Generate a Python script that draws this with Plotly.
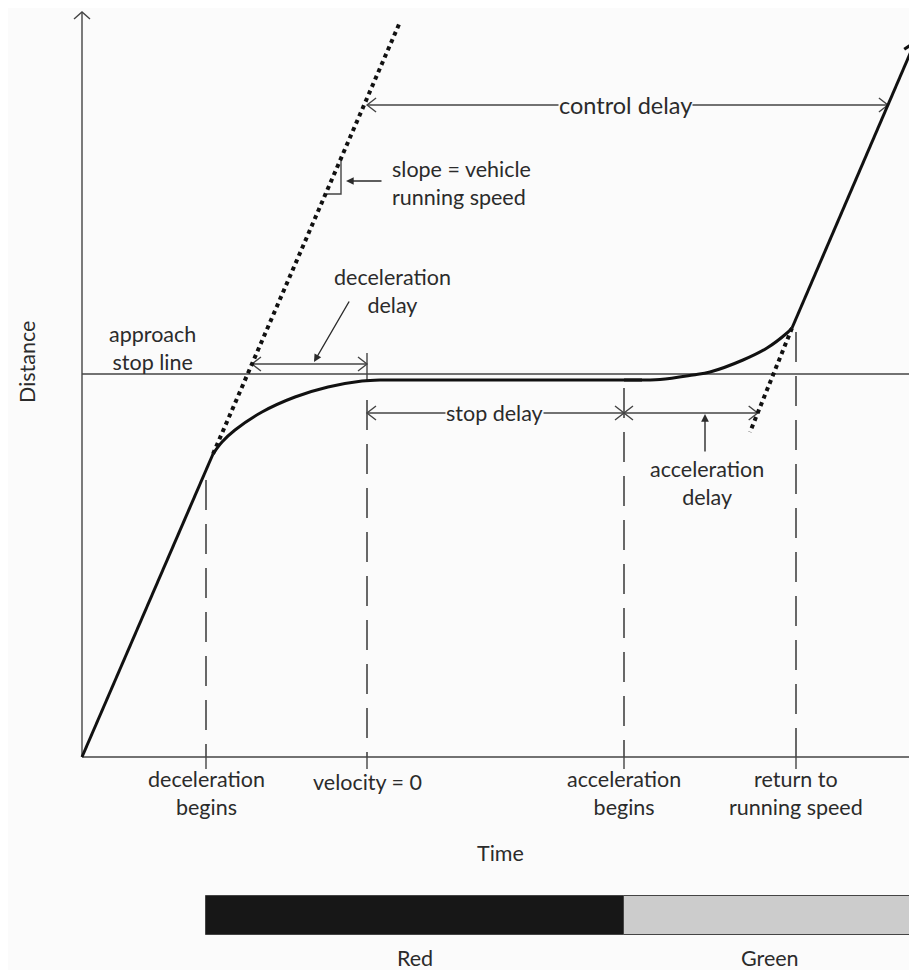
import numpy as np
import plotly.graph_objects as go

# Time runs right, distance runs up; origin = where the vehicle trace starts.
# Vehicle trajectory (time units, distance units)
approach_t = [0, 131]
approach_d = [0, 303]
decel_t = [131, 140, 153, 180, 213, 246, 280, 298]
decel_d = [303, 315, 327, 345, 360, 370, 376, 377]
stopped_t = [298, 560]
stopped_d = [377, 377]
accel_t = [542, 578, 611, 628, 661, 685, 705, 710]
accel_d = [377, 377.5, 382, 385, 397, 409, 424, 429]
depart_t = [710, 833]
depart_d = [429, 715]

# Running-speed projections (dotted)
free_flow_t = [131, 318]
free_flow_d = [303, 735]
free_flow2_t = [710, 668]
free_flow2_d = [429, 325]

stop_line_d = 383

# Key instants on the time axis
event_t = [124, 285, 542, 714]
event_labels = ["deceleration<br>begins", "velocity = 0",
                "acceleration<br>begins", "return to<br>running speed"]

# Signal phases
phase_names = ["Red", "Green"]
phase_start = [124, 542]
phase_end = [542, 840]

INK = "#2b2b2b"
BG = "#fbfbfb"
FONT = "Lato"

fig = go.Figure()


def t_at(ts, ds, d):
    order = np.argsort(ds)
    return float(np.interp(d, np.array(ds)[order], np.array(ts)[order]))


def v_head(tip, tail, length=9, half=7):
    x1, y1 = tip
    x0, y0 = tail
    n = np.hypot(x1 - x0, y1 - y0)
    ux, uy = (x1 - x0) / n, (y1 - y0) / n
    bx, by = x1 - length * ux, y1 - length * uy
    return ([bx - half * uy, x1, bx + half * uy],
            [by + half * ux, y1, by - half * ux])


thin_x, thin_y = [], []


def seg(xs, ys):
    thin_x.extend(list(xs) + [None])
    thin_y.extend(list(ys) + [None])


def double_arrow(t0, t1, d):
    seg([t0, t1], [d, d])
    seg(*v_head((t0, d), (t1, d)))
    seg(*v_head((t1, d), (t0, d)))


# axes with open arrowheads
seg([0, 0], [0, 745])
seg(*v_head((0, 745), (0, 0), 7, 8))
seg([0, 839], [0, 0])
seg(*v_head((839, 0), (0, 0), 7, 8))

# stop line
seg([0, 835], [stop_line_d, stop_line_d])

# delay dimension arrows
ctrl_d = 652
double_arrow(t_at(free_flow_t, free_flow_d, ctrl_d) + 3, t_at(depart_t, depart_d, ctrl_d), ctrl_d)
dec_d = 393
double_arrow(t_at(free_flow_t, free_flow_d, dec_d), event_t[1], dec_d)
seg([event_t[1], event_t[1]], [375, 404])
row_d = 344
double_arrow(event_t[1], event_t[2], row_d)
double_arrow(event_t[2], t_at(free_flow2_t, free_flow2_d, row_d), row_d)

# slope marker
tri_t = 259
tri_top = t_at(free_flow_d, free_flow_t, tri_t)
tri_left = t_at(free_flow_t, free_flow_d, 563)
seg([tri_left, tri_t, tri_t], [563, 563, tri_top])

# small ticks below the time axis
for t in event_t:
    seg([t, t], [0, -12])

fig.add_trace(go.Scatter(x=thin_x, y=thin_y, mode="lines",
                         line=dict(color="#444444", width=1.4), hoverinfo="skip"))

# event guide lines
dash_top = [277, 357, 369, 425]
for t, top in zip(event_t, dash_top):
    fig.add_trace(go.Scatter(x=[t, t], y=[top, 0], mode="lines",
                             line=dict(color="#444444", width=1.6, dash="30px,14px"),
                             hoverinfo="skip"))

# running-speed projections
for ts, ds in [(free_flow_t, free_flow_d), (free_flow2_t, free_flow2_d)]:
    fig.add_trace(go.Scatter(x=ts, y=ds, mode="lines",
                             line=dict(color="#111111", width=4, dash="4px,4px"),
                             hoverinfo="skip"))

# vehicle trajectory
for ts, ds, shape in [(approach_t, approach_d, "linear"), (decel_t, decel_d, "spline"),
                      (stopped_t, stopped_d, "linear"), (accel_t, accel_d, "spline"),
                      (depart_t, depart_d, "linear")]:
    fig.add_trace(go.Scatter(x=ts, y=ds, mode="lines",
                             line=dict(color="#111111", width=3, shape=shape),
                             hoverinfo="skip"))
hx, hy = v_head((depart_t[-1], depart_d[-1]), (depart_t[0], depart_d[0]), 11, 7)
fig.add_trace(go.Scatter(x=hx, y=hy, mode="lines",
                         line=dict(color="#111111", width=3), hoverinfo="skip"))

# signal timing bar
fig.add_trace(go.Bar(y=[-158.5, -158.5], x=[e - s for s, e in zip(phase_start, phase_end)],
                     base=phase_start, orientation="h", width=39,
                     marker=dict(color=["#171717", "#cccccc"],
                                 line=dict(color="#444444", width=1)),
                     hoverinfo="skip"))

# pointer arrows
for tip, tail in [((264, 576), (301, 576)), ((232, 395), (268, 457)), ((623, 343), (623, 304))]:
    fig.add_annotation(x=tip[0], y=tip[1], ax=tail[0], ay=tail[1], xref="x", yref="y",
                       axref="x", ayref="y", text="", showarrow=True, arrowhead=2,
                       arrowsize=1.1, arrowwidth=1.4, arrowcolor=INK)


def label(t, d, text, size=21.5, **kw):
    fig.add_annotation(x=t, y=d, xref="x", yref="y", text=text, showarrow=False,
                       font=dict(family=FONT, size=size, color=INK), **kw)


label(543, ctrl_d, "control delay", size=23.5, bgcolor=BG, borderpad=0)
label(412, row_d, "stop delay", bgcolor=BG, borderpad=0)
label(308, 574, "slope = vehicle<br>running speed", xanchor="left", align="left")
label(310, 466, "deceleration<br>delay")
label(70, 409, "approach<br>stop line")
label(625, 274, "acceleration<br>delay")
label(-55, 395, "Distance", textangle=-90)
for t, txt in zip(event_t, event_labels):
    label(t, -36 if "<br>" in txt else -25, txt)
label(418, -96, "Time")
for s, e, name in zip(phase_start, phase_end, phase_names):
    label((s + min(e, 835)) / 2 + (0 if name == "Red" else -1), -201, name)

# the page body adds an 8px margin, so the figure is sized to the remaining area
fig.update_layout(
    width=909, height=962,
    margin=dict(l=0, r=0, t=0, b=0, pad=0),
    showlegend=False,
    paper_bgcolor=BG, plot_bgcolor=BG,
    xaxis=dict(range=[-74, 835], visible=False, fixedrange=True),
    yaxis=dict(range=[-213, 749], visible=False, fixedrange=True),
    bargap=0,
)

fig.write_html("out.html")
